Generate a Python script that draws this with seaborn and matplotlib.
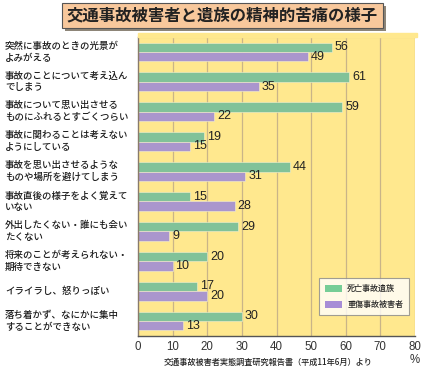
import matplotlib
matplotlib.use("Agg")
import matplotlib.pyplot as plt
import matplotlib.transforms as mtransforms
from matplotlib.patches import Rectangle, Patch
import pandas as pd
import seaborn as sns

# items (top to bottom)
items = [
    "突然に事故のときの光景が\nよみがえる",
    "事故のことについて考え込ん\nでしまう",
    "事故について思い出させる\nものにふれるとすごくつらい",
    "事故に関わることは考えない\nようにしている",
    "事故を思い出させるような\nものや場所を避けてしまう",
    "事故直後の様子をよく覚えて\nいない",
    "外出したくない・誰にも会い\nたくない",
    "将来のことが考えられない・\n期待できない",
    "イライラし、怒りっぽい",
    "落ち着かず、なにかに集中\nすることができない",
]
groups = ["死亡事故遺族", "重傷事故被害者"]
deceased = [56, 61, 59, 19, 44, 15, 29, 20, 17, 30]
injured = [49, 35, 22, 15, 31, 28, 9, 10, 20, 13]
xticks = [0, 10, 20, 30, 40, 50, 60, 70, 80]

green = "#76cd96"
purple = "#a78dd6"
yellow = "#ffe88e"

df = pd.DataFrame({
    "item": items * 2,
    "group": [groups[0]] * len(items) + [groups[1]] * len(items),
    "value": deceased + injured,
})

sns.set_style("white")
plt.rcParams["font.family"] = ["Noto Sans CJK JP", "DejaVu Sans"]

fig = plt.figure(figsize=(4.25, 3.7), dpi=100)
ax = fig.add_axes([0.3247, 0.0919, 0.6518, 0.808])
ax.set_facecolor(yellow)

sns.barplot(data=df, x="value", y="item", hue="group", orient="h",
            palette=[green, purple], width=0.63, order=items,
            hue_order=groups, legend=False, ax=ax,
            edgecolor="#f4f0d0", linewidth=0.4)

for cont in ax.containers:
    ax.bar_label(cont, fmt="%d", padding=2, fontsize=9,
                 family="Liberation Sans", color="#222222")

ax.set_xlim(0, 80)
ax.set_ylim(len(items) - 0.5, -0.5)
ax.set_xticks(xticks)
ax.set_xticklabels([str(t) for t in xticks], family="Liberation Sans",
                   fontsize=8.3, color="#333333")
ax.tick_params(axis="x", length=0, pad=3.5)
for t in xticks[1:]:
    ax.axvline(t, color="#c9b488", lw=0.9, zorder=0)

ax.set_yticks([i + 0.5 for i in range(len(items) - 1)])
ax.set_yticklabels([])
ax.tick_params(axis="y", direction="in", length=3, color="#8a7b6a", width=0.8)
ax.set_xlabel("")
ax.set_ylabel("")

ax.spines["right"].set_visible(False)
ax.spines["top"].set_color("#c9b488")
ax.spines["top"].set_linewidth(0.8)
ax.spines["left"].set_color("#8a7b6a")
ax.spines["bottom"].set_color("#555555")
ax.spines["left"].set_linewidth(1.0)
ax.spines["bottom"].set_linewidth(1.0)

# yellow band above the plot area
fig.patches.append(Rectangle((138 / 425, 1 - 37 / 370), 279 / 425, 3.5 / 370,
                             transform=fig.transFigure, color=yellow,
                             zorder=0))

# category labels
trans = mtransforms.blended_transform_factory(fig.transFigure, ax.transData)
for i, lab in enumerate(items):
    ax.text(5 / 425, i, lab, transform=trans, ha="left", va="center",
            fontsize=6.8, fontweight="medium", color="#1a1a1a",
            linespacing=1.35)

# legend
handles = [Patch(facecolor=green, edgecolor="none"),
           Patch(facecolor=purple, edgecolor="none")]
leg = ax.legend(handles, groups, loc="upper left",
                bbox_to_anchor=(0.639, 0.206),
                frameon=True, fancybox=False, handlelength=2.2,
                handleheight=0.9, borderpad=0.7, labelspacing=0.9,
                handletextpad=0.6, prop={"weight": "medium", "size": 5.8})
leg.get_frame().set_edgecolor("#888888")
leg.get_frame().set_linewidth(0.8)
leg.get_frame().set_facecolor("white")

# percent sign and source
fig.text(415 / 425, 1 - 360 / 370, "%", ha="center", va="center",
         fontsize=8.3, family="Liberation Sans", color="#333333")
fig.text(268 / 425, 1 - 362 / 370,
         "交通事故被害者実態調査研究報告書（平成11年6月）より",
         ha="center", va="center", fontsize=5.9, fontweight="medium",
         color="#222222")

# title box with shadow
fig.patches.append(Rectangle((65 / 425, 1 - 31 / 370), 321 / 425, 25 / 370,
                             transform=fig.transFigure, facecolor="#8d8578",
                             edgecolor="none", zorder=1))
fig.patches.append(Rectangle((62 / 425, 1 - 28 / 370), 321 / 425, 25 / 370,
                             transform=fig.transFigure, facecolor="#f8c89c",
                             edgecolor="#555555", linewidth=0.8, zorder=2))
fig.text(222 / 425, 1 - 15.5 / 370, "交通事故被害者と遺族の精神的苦痛の様子",
         ha="center", va="center", fontsize=11.8, fontweight="bold",
         color="#222222", zorder=3)

fig.savefig("out.png", dpi=100)
